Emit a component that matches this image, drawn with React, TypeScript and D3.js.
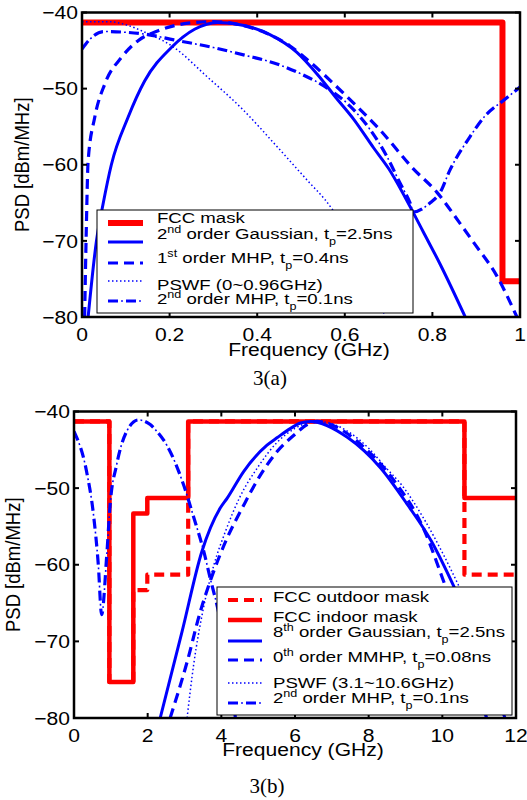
import React from 'react';
import * as d3 from 'd3';

// ================= Figure 3(a) : 0 - 1 GHz =================
const xTicksA = [0, 0.2, 0.4, 0.6, 0.8, 1];
const xTickLabelsA = ['0', '0.2', '0.4', '0.6', '0.8', '1'];
const yTicks = [-40, -50, -60, -70, -80];
const yTickLabels = ['\u221240', '\u221250', '\u221260', '\u221270', '\u221280'];

const maskA_f = [0, 0.96, 0.96, 1.0];
const maskA_db = [-41.3, -41.3, -75.3, -75.3];

const gauss2A_f = [0.014, 0.033, 0.048, 0.067, 0.105, 0.143, 0.204, 0.257, 0.31, 0.37, 0.429, 0.49, 0.54, 0.58, 0.62, 0.666, 0.70, 0.749, 0.779, 0.818, 0.875];
const gauss2A_db = [-80, -70, -65.2, -60, -53.8, -49.0, -44.6, -42.2, -41.3, -41.7, -42.9, -45.2, -48.3, -51.2, -54.0, -57.8, -60.5, -65.5, -68.8, -73.1, -80];

const mhp1A_f = [0.006, 0.01, 0.014, 0.029, 0.052, 0.09, 0.128, 0.174, 0.242, 0.3, 0.36, 0.42, 0.475, 0.505, 0.604, 0.68, 0.756, 0.81, 0.863, 0.894, 0.947, 0.993];
const mhp1A_db = [-80, -68, -59.5, -53.8, -49.4, -45.9, -43.7, -42.4, -41.4, -41.2, -41.6, -42.7, -44.4, -45.75, -51.0, -55.4, -60.5, -63.6, -67.7, -70.2, -74.6, -80];

const pswfA_f = [0, 0.06, 0.1, 0.14, 0.208, 0.285, 0.368, 0.445, 0.52, 0.555, 0.6, 0.65, 0.69];
const pswfA_db = [-41.2, -41.2, -41.6, -42.5, -44.5, -48.4, -52.8, -57.6, -62.4, -64.6, -68.3, -73.2, -79.7];

const mhp2A_f = [0, 0.02, 0.05, 0.1, 0.15, 0.21, 0.3, 0.371, 0.447, 0.505, 0.559, 0.612, 0.658, 0.696, 0.726, 0.749, 0.757, 0.795, 0.817, 0.84, 0.886, 0.917, 0.97, 1.0];
const mhp2A_db = [-44.8, -43.4, -42.5, -42.6, -42.9, -43.6, -44.6, -45.6, -46.8, -48.2, -49.9, -52.3, -55.4, -58.9, -62.4, -65.0, -66.2, -65.0, -63.7, -60.7, -56.3, -53.8, -51.2, -49.8];

// ================= Figure 3(b) : 0 - 12 GHz =================
const xTicksB = [0, 2, 4, 6, 8, 10, 12];
const xTickLabelsB = ['0', '2', '4', '6', '8', '10', '12'];

const maskB_f = [0, 0.96, 0.96, 1.61, 1.61, 1.99, 1.99, 3.1, 3.1, 10.6, 10.6, 12];
const maskOut_db = [-41.3, -41.3, -75.3, -75.3, -63.3, -63.3, -61.3, -61.3, -41.3, -41.3, -61.3, -61.3];
const maskIn_db = [-41.3, -41.3, -75.3, -75.3, -53.3, -53.3, -51.3, -51.3, -41.3, -41.3, -51.3, -51.3];

const gauss8B_f = [2.34, 2.93, 3.47, 3.97, 4.16, 4.61, 5.24, 5.52, 5.88, 6.15, 6.42, 7.43, 8.33, 9.06, 9.70, 10.29, 11.0, 11.7];
const gauss8B_db = [-80, -68.8, -58.3, -52.6, -51.3, -47.8, -44.4, -43.4, -42.2, -41.5, -41.3, -43.4, -47.4, -52.2, -56.9, -62.6, -70.5, -80];

const mmhpB_f = [2.61, 3.07, 3.43, 3.79, 4.15, 4.61, 5.06, 5.52, 5.97, 6.33, 6.6, 6.97, 7.88, 8.70, 9.52, 9.97, 10.6, 11.2];
const mmhpB_db = [-80, -72.7, -66.1, -60.9, -56.6, -52.2, -48.3, -45.2, -43.1, -41.7, -41.3, -41.7, -44.7, -49.1, -55.6, -61.3, -70, -80];

const pswfB_f = [3.07, 3.25, 3.5, 3.8, 4.1, 4.5, 5.0, 5.5, 6.0, 6.6, 7.0, 7.5, 8.0, 8.5, 8.88, 9.5, 10.0, 10.5, 11.2, 11.9];
const pswfB_db = [-80, -73, -66, -60, -55.8, -51.2, -47.2, -44.1, -42.2, -41.3, -41.6, -42.8, -44.8, -47.5, -49.5, -54.0, -58.4, -63.3, -71, -80];

const mhp2B_f = [0, 0.34, 0.53, 0.66, 0.75, 0.89, 0.98, 1.16, 1.43, 1.75, 2.07, 2.25, 2.52, 2.97, 3.25, 3.52, 3.70, 3.92, 4.15, 4.38, 4.45];
const mhp2B_db = [-42.6, -47.8, -53.5, -60, -66.5, -58.7, -52.2, -46.9, -42.6, -41.1, -41.7, -42.6, -44.4, -49.5, -53.8, -58.2, -61.8, -66.1, -72, -80, -85];

// legend labels (segments: [text, 0 normal | 1 superscript | -1 subscript])
type Seg = [string, number];
const legendA: Seg[][] = [
  [['FCC mask', 0]],
  [['2', 0], ['nd', 1], [' order Gaussian, t', 0], ['p', -1], ['=2.5ns', 0]],
  [['1', 0], ['st', 1], [' order MHP, t', 0], ['p', -1], ['=0.4ns', 0]],
  [['PSWF (0~0.96GHz)', 0]],
  [['2', 0], ['nd', 1], [' order MHP, t', 0], ['p', -1], ['=0.1ns', 0]],
];
const legendB: Seg[][] = [
  [['FCC outdoor mask', 0]],
  [['FCC indoor mask', 0]],
  [['8', 0], ['th', 1], [' order Gaussian, t', 0], ['p', -1], ['=2.5ns', 0]],
  [['0', 0], ['th', 1], [' order MMHP, t', 0], ['p', -1], ['=0.08ns', 0]],
  [['PSWF (3.1~10.6GHz)', 0]],
  [['2', 0], ['nd', 1], [' order MHP, t', 0], ['p', -1], ['=0.1ns', 0]],
];

const RED = '#ff0000';
const BLUE = '#0000ff';
const SANS = '"Liberation Sans", Arial, Helvetica, sans-serif';
const SERIF = '"Liberation Serif", "Times New Roman", serif';

type Kind = 'solid' | 'dashed' | 'dotted' | 'dashdot';
interface Series { f: number[]; db: number[]; color: string; width: number; kind: Kind; step?: boolean; }

function Txt(props: { x: number; y: number; size: number; sx?: number; anchor?: string; rot?: boolean; family?: string; children: any }) {
  const { x, y, size, sx = 1.14, anchor = 'start', rot = false, family = SANS, children } = props;
  return (
    <text transform={`translate(${x},${y}) scale(${sx},1)${rot ? ' rotate(-90)' : ''}`} fontSize={size} fontFamily={family} textAnchor={anchor} fill="#000">
      {children}
    </text>
  );
}

function LegendText({ x, y, segs }: { x: number; y: number; segs: Seg[] }) {
  let cur = 0;
  const spans = segs.map((s, i) => {
    const target = s[1] === 1 ? -6 : s[1] === -1 ? 6 : 0;
    const dy = target - cur;
    cur = target;
    return (
      <tspan key={i} dy={dy} fontSize={s[1] === 0 ? 15.5 : 10.5}>{s[0]}</tspan>
    );
  });
  return (
    <text transform={`translate(${x},${y}) scale(1.2,1)`} fontSize={15.5} fontFamily={SANS} fill="#000" style={{ whiteSpace: 'pre' }}>
      {spans}
    </text>
  );
}

function strokeProps(s: { color: string; width: number; kind: Kind }) {
  if (s.kind === 'dashed') return { stroke: s.color, strokeWidth: s.width, strokeDasharray: '10 6' };
  if (s.kind === 'dotted') return { stroke: s.color, strokeWidth: s.width, strokeDasharray: '1.5 2.5' };
  if (s.kind === 'dashdot') return { stroke: s.color, strokeWidth: s.width, strokeDasharray: '10 8' };
  return { stroke: s.color, strokeWidth: s.width };
}

function SeriesPath({ d, s }: { d: string; s: { color: string; width: number; kind: Kind } }) {
  return (
    <g>
      <path d={d} fill="none" strokeLinejoin="round" {...strokeProps(s)} />
      {s.kind === 'dashdot' && (
        <path d={d} fill="none" stroke={s.color} strokeWidth={1.6} strokeDasharray="1.8 16.2" strokeDashoffset={4.9} />
      )}
    </g>
  );
}

interface PlotProps {
  id: string;
  x0: number; x1: number; y0: number; y1: number;
  xMax: number;
  xTicks: number[]; xTickLabels: string[];
  series: Series[];
  legend: { segs: Seg[][]; box: [number, number, number, number]; lineX: [number, number]; textX: number; lineYs: number[]; textYs: number[] };
  yLabelX: number;
  xLabelY: number;
}

function Plot(p: PlotProps) {
  const xs = d3.scaleLinear().domain([0, p.xMax]).range([p.x0, p.x1]);
  const ys = d3.scaleLinear().domain([-80, -40]).range([p.y1, p.y0]);
  const smooth = d3.line<[number, number]>().x(d => xs(d[0])).y(d => ys(d[1])).curve(d3.curveMonotoneX);
  const linear = d3.line<[number, number]>().x(d => xs(d[0])).y(d => ys(d[1]));
  const tick = 5;
  const [bx0, by0, bx1, by1] = p.legend.box;
  return (
    <g>
      <defs>
        <clipPath id={p.id}>
          <rect x={p.x0} y={p.y0} width={p.x1 - p.x0} height={p.y1 - p.y0} />
        </clipPath>
      </defs>
      <g clipPath={`url(#${p.id})`}>
        {p.series.map((s, i) => {
          const pts = s.f.map((f, j) => [f, s.db[j]] as [number, number]);
          const d = (s.step ? linear : smooth)(pts) || '';
          return <SeriesPath key={i} d={d} s={s} />;
        })}
      </g>
      {/* frame */}
      <rect x={p.x0} y={p.y0} width={p.x1 - p.x0} height={p.y1 - p.y0} fill="none" stroke="#000" strokeWidth={2.5} />
      {p.xTicks.map((v, i) => (
        <g key={'xt' + i}>
          <line x1={xs(v)} x2={xs(v)} y1={p.y1} y2={p.y1 - tick} stroke="#000" strokeWidth={2} />
          <line x1={xs(v)} x2={xs(v)} y1={p.y0} y2={p.y0 + tick} stroke="#000" strokeWidth={2} />
          <Txt x={xs(v)} y={p.y1 + 23.5} size={18.5} anchor="middle">{p.xTickLabels[i]}</Txt>
        </g>
      ))}
      {yTicks.map((v, i) => (
        <g key={'yt' + i}>
          <line x1={p.x0} x2={p.x0 + tick} y1={ys(v)} y2={ys(v)} stroke="#000" strokeWidth={2} />
          <line x1={p.x1} x2={p.x1 - tick} y1={ys(v)} y2={ys(v)} stroke="#000" strokeWidth={2} />
          <Txt x={p.x0 - 4} y={ys(v) + 6.7} size={18.5} anchor="end">{yTickLabels[i]}</Txt>
        </g>
      ))}
      <Txt x={(p.x0 + p.x1) / 2 + 8} y={p.xLabelY} size={18.5} anchor="middle">Frequency (GHz)</Txt>
      <Txt x={p.yLabelX} y={(p.y0 + p.y1) / 2} size={18.5} anchor="middle" rot>PSD [dBm/MHz]</Txt>
      {/* legend */}
      <rect x={bx0} y={by0} width={bx1 - bx0} height={by1 - by0} fill="#fff" stroke="#000" strokeWidth={1} />
      {p.legend.segs.map((segs, i) => {
        const s = p.series[i];
        const ly = p.legend.lineYs[i];
        const d = `M${p.legend.lineX[0]},${ly}L${p.legend.lineX[1]},${ly}`;
        return (
          <g key={'lg' + i}>
            <SeriesPath d={d} s={s} />
            <LegendText x={p.legend.textX} y={p.legend.textYs[i]} segs={segs} />
          </g>
        );
      })}
    </g>
  );
}

export default function App() {
  const seriesA: Series[] = [
    { f: maskA_f, db: maskA_db, color: RED, width: 6, kind: 'solid', step: true },
    { f: gauss2A_f, db: gauss2A_db, color: BLUE, width: 3, kind: 'solid' },
    { f: mhp1A_f, db: mhp1A_db, color: BLUE, width: 3.2, kind: 'dashed' },
    { f: pswfA_f, db: pswfA_db, color: BLUE, width: 1.5, kind: 'dotted' },
    { f: mhp2A_f, db: mhp2A_db, color: BLUE, width: 3.2, kind: 'dashdot' },
  ];
  const seriesB: Series[] = [
    { f: maskB_f, db: maskOut_db, color: RED, width: 4.2, kind: 'dashed', step: true },
    { f: maskB_f, db: maskIn_db, color: RED, width: 4.5, kind: 'solid', step: true },
    { f: gauss8B_f, db: gauss8B_db, color: BLUE, width: 3, kind: 'solid' },
    { f: mmhpB_f, db: mmhpB_db, color: BLUE, width: 3.2, kind: 'dashed' },
    { f: pswfB_f, db: pswfB_db, color: BLUE, width: 1.5, kind: 'dotted' },
    { f: mhp2B_f, db: mhp2B_db, color: BLUE, width: 3.2, kind: 'dashdot' },
  ];
  return (
    <svg width={527} height={800} viewBox="0 0 527 800" style={{ position: 'absolute', left: 0, top: 0, background: '#fff' }}>
      <rect x={0} y={0} width={527} height={800} fill="#fff" />
      <Plot
        id="clipA" x0={82} x1={520} y0={12.5} y1={317} xMax={1}
        xTicks={xTicksA} xTickLabels={xTickLabelsA} series={seriesA}
        legend={{ segs: legendA, box: [97, 210, 413, 313], lineX: [108, 143], textX: 157, lineYs: [223, 242, 263, 281, 301], textYs: [223, 239, 263, 290, 304] }}
        yLabelX={29} xLabelY={356}
      />
      <Txt x={270} y={385} size={21} sx={1} anchor="middle" family={SERIF}>3(a)</Txt>
      <Plot
        id="clipB" x0={74} x1={516} y0={411.5} y1={718} xMax={12}
        xTicks={xTicksB} xTickLabels={xTickLabelsB} series={seriesB}
        legend={{ segs: legendB, box: [217, 587, 512, 715], lineX: [228, 262], textX: 273, lineYs: [600, 620, 641, 660, 683, 703], textYs: [602, 622, 637, 662, 688, 703] }}
        yLabelX={20} xLabelY={756}
      />
      <Txt x={267} y={793} size={21} sx={1} anchor="middle" family={SERIF}>3(b)</Txt>
    </svg>
  );
}
